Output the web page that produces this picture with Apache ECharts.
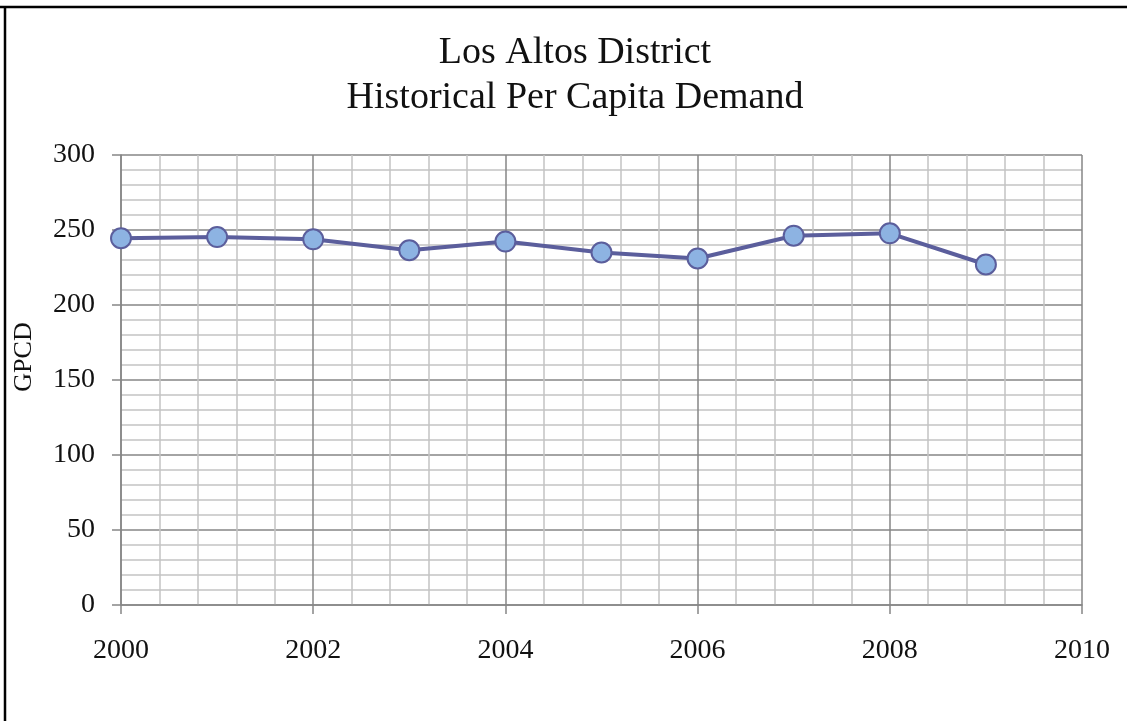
<!DOCTYPE html>
<html>
<head>
<meta charset="utf-8">
<script src="https://cdn.jsdelivr.net/npm/echarts@6/dist/echarts.min.js"></script>
<style>
  html, body { margin: 0; padding: 0; background: #fff; }
  #chart { width: 1127px; height: 721px; }
</style>
</head>
<body>
<div id="chart"></div>
<script>
const years = [2000, 2001, 2002, 2003, 2004, 2005, 2006, 2007, 2008, 2009];
const gpcd = [244.5, 245.3, 243.8, 236.5, 242.3, 235, 231, 246.2, 247.8, 227];

const chart = echarts.init(document.getElementById("chart"));
const font = "'Liberation Serif', 'DejaVu Serif', serif";

chart.setOption({
  backgroundColor: "#fff",
  animation: false,
  textStyle: { fontFamily: font },
  title: {
    text: "Los Altos District\nHistorical Per Capita Demand",
    left: 570,
    textAlign: "center",
    top: 26,
    textStyle: {
      fontFamily: font,
      fontSize: 38,
      fontWeight: "normal",
      color: "#111",
      lineHeight: 45,
    },
  },
  graphic: [
    { type: "line", shape: { x1: 0, y1: 7, x2: 1127, y2: 7 }, style: { stroke: "#000", lineWidth: 2.5 } },
    { type: "line", shape: { x1: 5, y1: 7, x2: 5, y2: 721 }, style: { stroke: "#000", lineWidth: 2.5 } },
  ],
  grid: { left: 121, right: 45, top: 155, bottom: 116 },
  xAxis: {
    type: "value",
    min: 2000,
    max: 2010,
    interval: 2,
    axisLine: { show: true, onZero: false, lineStyle: { color: "#868686", width: 1.5 } },
    axisTick: { show: true, length: 9, lineStyle: { color: "#868686", width: 1.5 } },
    axisLabel: {
      fontSize: 28,
      color: "#111",
      margin: 32,
      fontFamily: font,
      formatter: (v) => String(v),
    },
    splitLine: { show: true, lineStyle: { color: "#868686", width: 1.5 } },
    minorTick: { show: false, splitNumber: 5 },
    minorSplitLine: { show: true, lineStyle: { color: "#c4c4c4", width: 1.5 } },
  },
  yAxis: {
    type: "value",
    min: 0,
    max: 300,
    interval: 50,
    name: "GPCD",
    nameLocation: "middle",
    nameGap: 84,
    nameTextStyle: { fontSize: 26, color: "#111", fontFamily: font, padding: [0, 0, 0, 46] },
    axisLine: { show: true, lineStyle: { color: "#868686", width: 1.5 } },
    axisTick: { show: true, length: 9, lineStyle: { color: "#868686", width: 1.5 } },
    axisLabel: { fontSize: 28, color: "#111", margin: 26, fontFamily: font },
    splitLine: { show: true, lineStyle: { color: "#868686", width: 1.5 } },
    minorTick: { show: false, splitNumber: 5 },
    minorSplitLine: { show: true, lineStyle: { color: "#c4c4c4", width: 1.5 } },
  },
  series: [
    {
      type: "line",
      data: years.map((y, i) => [y, gpcd[i]]),
      symbol: "circle",
      symbolSize: 20,
      lineStyle: { color: "#5b5e9c", width: 4 },
      itemStyle: { color: "#8db3e2", borderColor: "#5b5e9c", borderWidth: 2 },
      z: 5,
    },
  ],
});
</script>
</body>
</html>
